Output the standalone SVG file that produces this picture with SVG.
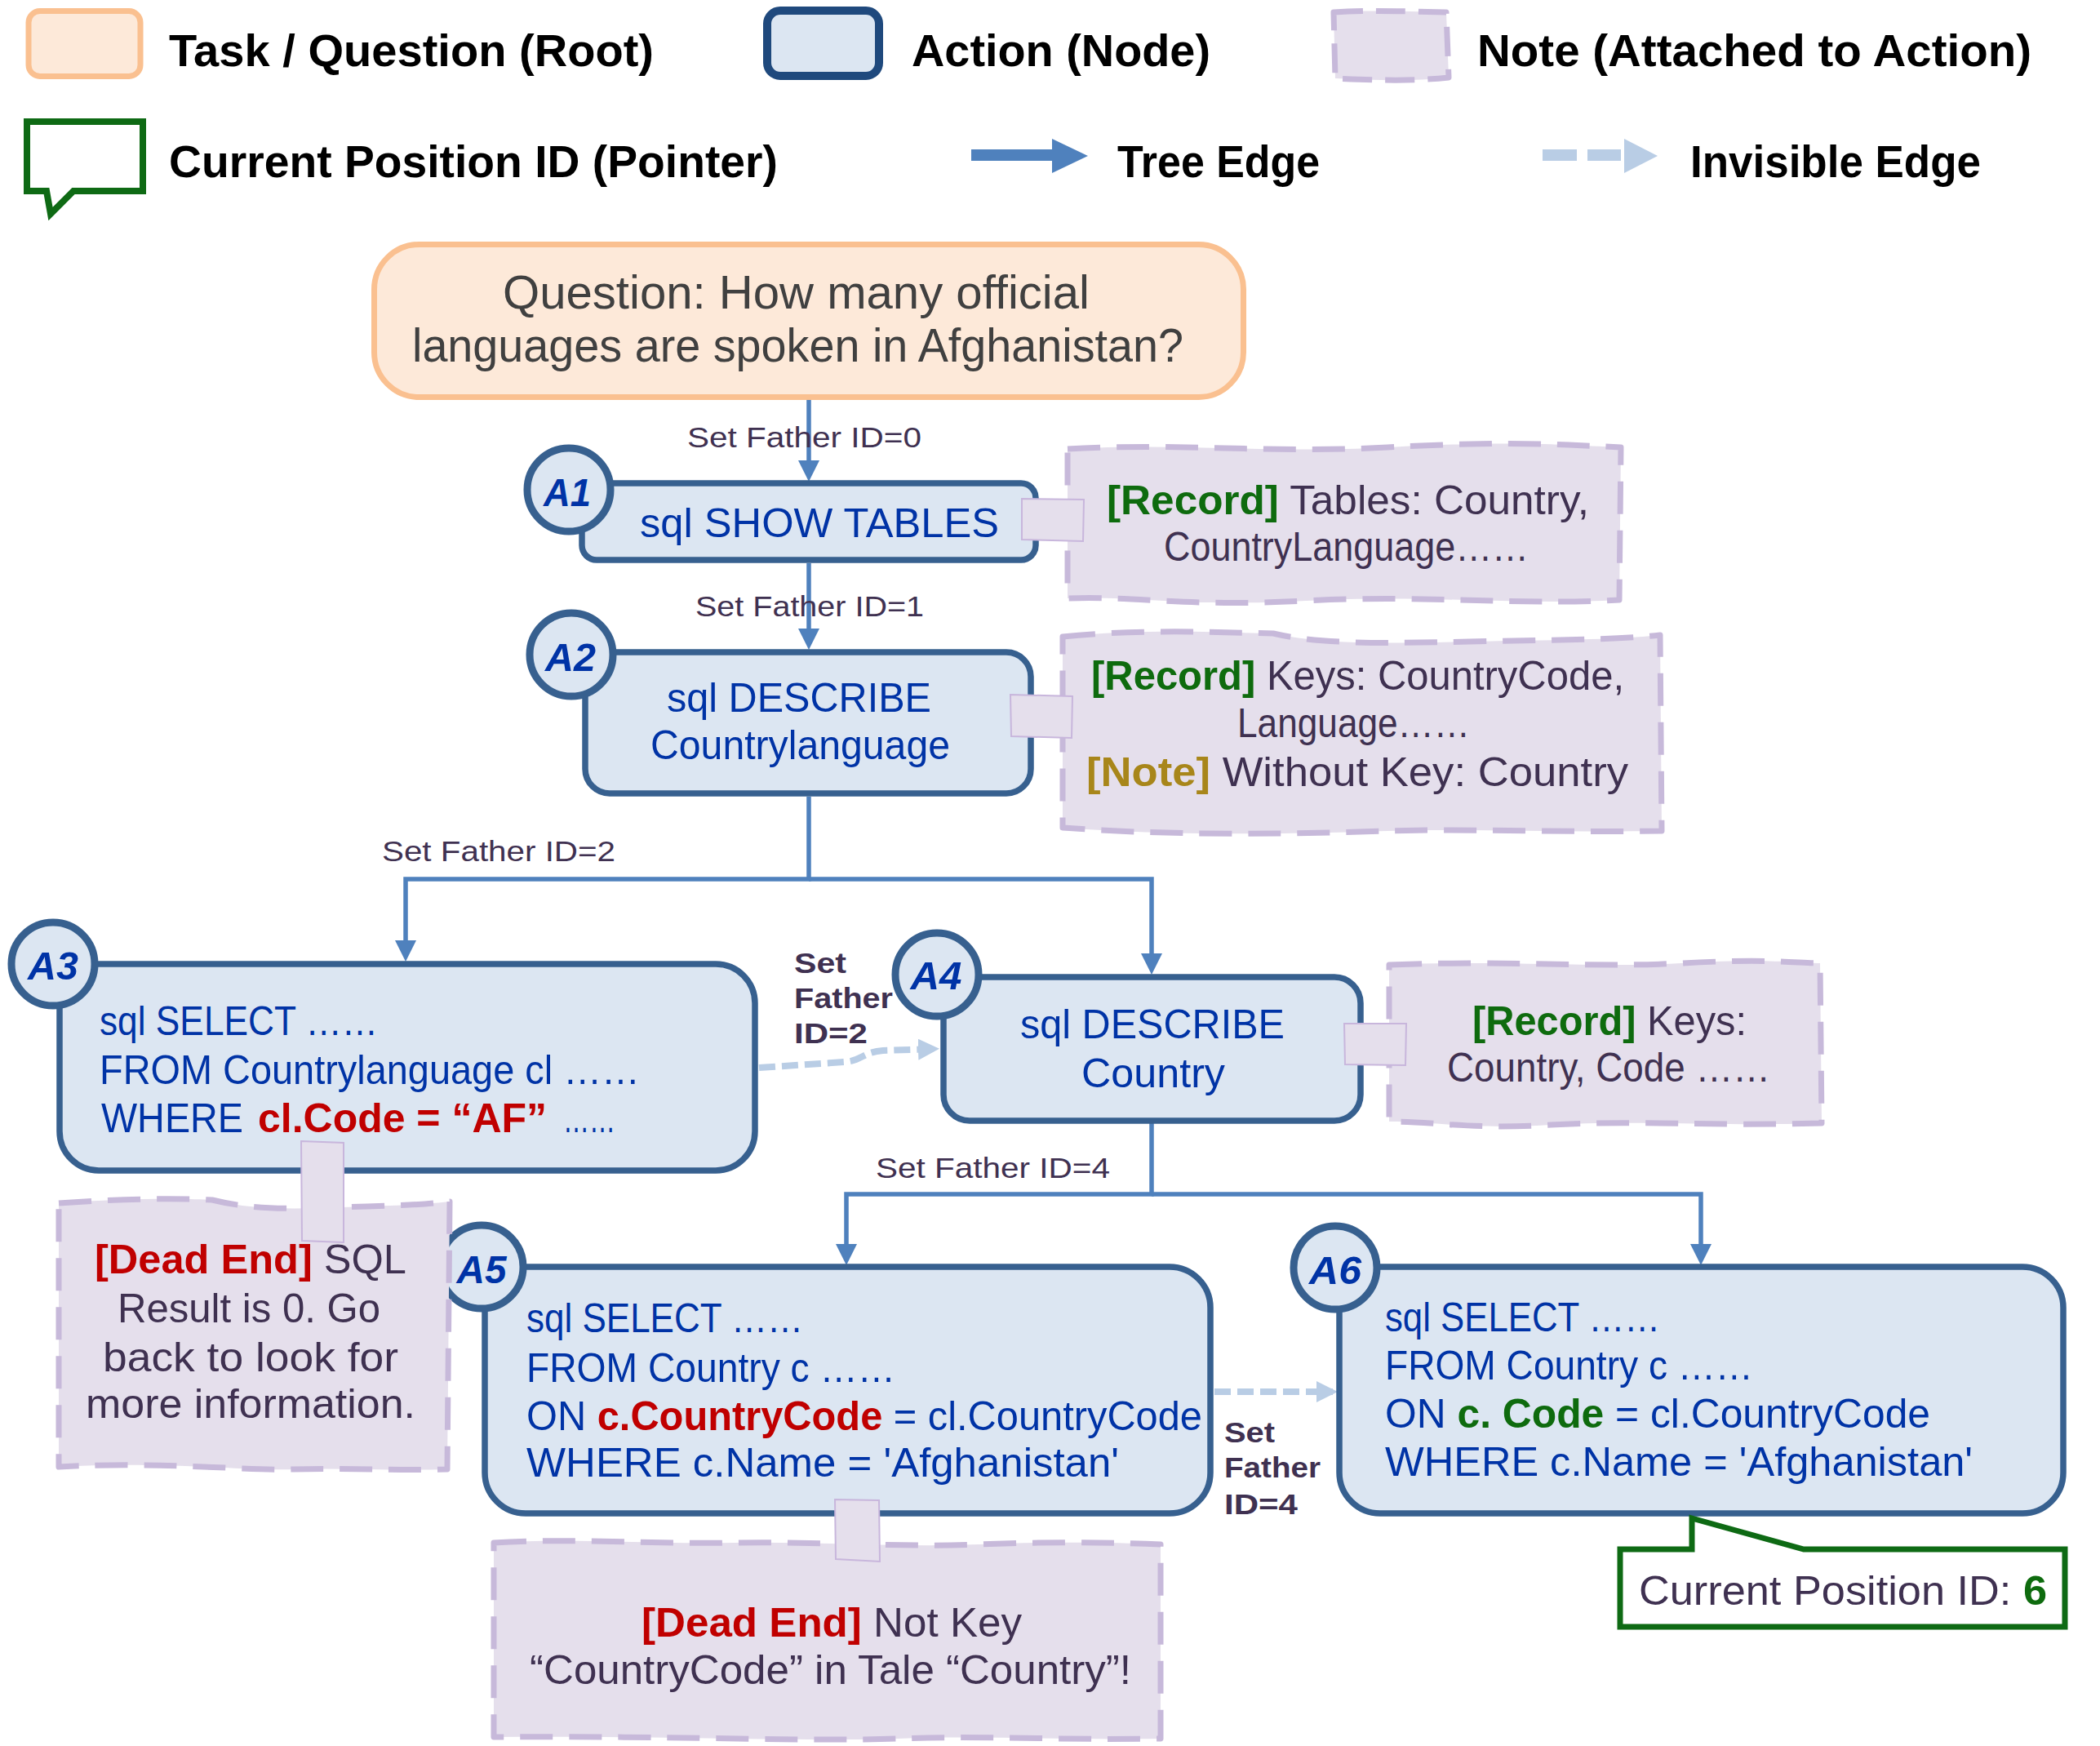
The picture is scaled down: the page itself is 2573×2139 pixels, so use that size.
<svg xmlns="http://www.w3.org/2000/svg" width="2573" height="2139" viewBox="0 0 2573 2139">
<defs>
<style>
.lg{font-family:"Liberation Sans",Arial,sans-serif;font-weight:bold;font-size:56px;fill:#000}
.cm{font-family:"Liberation Sans",Arial,sans-serif}
.q{font-size:57px;fill:#404040}
.nt{font-size:50px;fill:#0033A6}
.nn{font-size:50px;fill:#3F3151}
.lb{font-size:35px;fill:#3F3151}
.lbb{font-size:35px;fill:#3F3151;font-weight:bold}
.aid{font-size:48px;font-weight:bold;font-style:italic;fill:#0033A6;text-anchor:middle}
.red{fill:#C00000;font-weight:bold}
.grn{fill:#0E6B0E;font-weight:bold}
.gold{fill:#A8861A;font-weight:bold}
.node{fill:#DCE6F2;stroke:#37608F;stroke-width:7.5}
.circ{fill:#DCE6F2;stroke:#37608F;stroke-width:9}
.note{fill:#E5DFEC;stroke:#C7B9DA;stroke-width:7;stroke-dasharray:40 20;stroke-linejoin:round}
.tab{fill:#E5DFEC;stroke:#C8B6DC;stroke-width:2}
.edge{fill:none;stroke:#4F81BD;stroke-width:5.5;marker-end:url(#ah)}
.inv{fill:none;stroke:#B9CDE5;stroke-width:8;stroke-dasharray:20 8;marker-end:url(#ahi)}
</style>
<marker id="ah" viewBox="0 0 26 26" refX="20" refY="13" markerWidth="26" markerHeight="26" markerUnits="userSpaceOnUse" orient="auto">
<path d="M0,0 L26,13 L0,26 Z" fill="#4F81BD"/>
</marker>
<marker id="ahi" viewBox="0 0 26 26" refX="20" refY="13" markerWidth="26" markerHeight="26" markerUnits="userSpaceOnUse" orient="auto">
<path d="M0,0 L26,13 L0,26 Z" fill="#B9CDE5"/>
</marker>
</defs>
<rect width="2573" height="2139" fill="#FFFFFF"/>

<g id="legend">
<g id="legend-task">
<rect x="35" y="13.5" width="137" height="80" rx="14" fill="#FDE9D9" stroke="#FAC090" stroke-width="7"/>
<text class="lg" x="207" y="81" textLength="594" lengthAdjust="spacingAndGlyphs">Task / Question (Root)</text>
</g>
<g id="legend-action">
<rect x="940" y="13" width="137" height="80" rx="16" fill="#DCE6F2" stroke="#1F497D" stroke-width="10"/>
<text class="lg" x="1117" y="81" textLength="366" lengthAdjust="spacingAndGlyphs">Action (Node)</text>
</g>
<g id="legend-note">
<path class="note" d="M1634,15 C1680,12 1720,14 1772,15 L1775,95 C1730,100 1680,98 1636,96 Z" style="stroke-dasharray:36 16"/>
<text class="lg" x="1810" y="81" textLength="679" lengthAdjust="spacingAndGlyphs">Note (Attached to Action)</text>
</g>
<g id="legend-pointer">
<path d="M33,149 H175 V234 H90 L62,262 L57,234 H33 Z" fill="#FFFFFF" stroke="#0E6A14" stroke-width="8" stroke-linejoin="miter"/>
<text class="lg" x="207" y="217" textLength="746" lengthAdjust="spacingAndGlyphs">Current Position ID (Pointer)</text>
</g>
<g id="legend-tree-edge">
<rect x="1190" y="183" width="101" height="14" fill="#4F81BD"/>
<polygon points="1289,170 1333,191 1289,212" fill="#4F81BD"/>
<text class="lg" x="1369" y="217" textLength="248" lengthAdjust="spacingAndGlyphs">Tree Edge</text>
</g>
<g id="legend-invisible-edge">
<rect x="1890" y="183" width="42" height="14" fill="#B9CDE5"/>
<rect x="1945" y="183" width="41" height="14" fill="#B9CDE5"/>
<polygon points="1990,170 2031,191 1990,212" fill="#B9CDE5"/>
<text class="lg" x="2071" y="217" textLength="356" lengthAdjust="spacingAndGlyphs">Invisible Edge</text>
</g>
</g>

<g id="connectors">
<path class="edge" d="M991,489 V584"/>
<path class="edge" d="M991,690 V790"/>
<path class="edge" d="M991,976 V1077 H497 V1172"/>
<path class="edge" d="M991,1077 H1411 V1188"/>
<path class="edge" d="M1411,1376 V1463 H1037 V1544"/>
<path class="edge" d="M1411,1463 H2084 V1544"/>
<path class="inv" d="M930,1308 L1035,1301 C1058,1299 1056,1289 1082,1287 L1145,1285"/>
<path class="inv" d="M1488,1705 L1633,1705"/>
<text class="cm lb" x="842" y="548" textLength="287" lengthAdjust="spacingAndGlyphs">Set Father ID=0</text>
<text class="cm lb" x="852" y="755" textLength="280" lengthAdjust="spacingAndGlyphs">Set Father ID=1</text>
<text class="cm lb" x="468" y="1055" textLength="286" lengthAdjust="spacingAndGlyphs">Set Father ID=2</text>
<text class="cm lb" x="1073" y="1443" textLength="287" lengthAdjust="spacingAndGlyphs">Set Father ID=4</text>
<text class="cm lbb" x="973" y="1192" textLength="64" lengthAdjust="spacingAndGlyphs">Set</text>
<text class="cm lbb" x="973" y="1235" textLength="121" lengthAdjust="spacingAndGlyphs">Father</text>
<text class="cm lbb" x="973" y="1278" textLength="90" lengthAdjust="spacingAndGlyphs">ID=2</text>
<text class="cm lbb" x="1500" y="1767" textLength="62" lengthAdjust="spacingAndGlyphs">Set</text>
<text class="cm lbb" x="1500" y="1810" textLength="118" lengthAdjust="spacingAndGlyphs">Father</text>
<text class="cm lbb" x="1500" y="1855" textLength="90" lengthAdjust="spacingAndGlyphs">ID=4</text>
</g>

<g id="question">
<rect x="458.5" y="299.5" width="1065" height="187" rx="55" fill="#FDE9D9" stroke="#FAC090" stroke-width="7"/>
<text class="cm q" x="616" y="378" textLength="719" lengthAdjust="spacingAndGlyphs">Question: How many official</text>
<text class="cm q" x="505" y="443" textLength="945" lengthAdjust="spacingAndGlyphs">languages are spoken in Afghanistan?</text>
</g>

<g id="A1">
<rect class="node" x="713" y="592" width="556" height="94" rx="18"/>
<circle class="circ" cx="697" cy="600" r="51"/>
<text class="cm aid" x="695" y="620" textLength="58" lengthAdjust="spacingAndGlyphs">A1</text>
<text class="cm nt" x="784" y="658" textLength="440" lengthAdjust="spacingAndGlyphs">sql SHOW TABLES</text>
</g>

<g id="A2">
<rect class="node" x="717" y="799" width="546" height="173" rx="30"/>
<circle class="circ" cx="700" cy="802" r="51"/>
<text class="cm aid" x="699" y="822" textLength="62" lengthAdjust="spacingAndGlyphs">A2</text>
<text class="cm nt" x="817" y="872" textLength="324" lengthAdjust="spacingAndGlyphs">sql DESCRIBE</text>
<text class="cm nt" x="797" y="930" textLength="367" lengthAdjust="spacingAndGlyphs">Countrylanguage</text>
</g>

<g id="A3">
<rect class="node" x="73" y="1181" width="852" height="253" rx="48"/>
<circle class="circ" cx="65" cy="1181" r="51"/>
<text class="cm aid" x="65" y="1200" textLength="62" lengthAdjust="spacingAndGlyphs">A3</text>
<text class="cm nt" x="122" y="1268" textLength="341" lengthAdjust="spacingAndGlyphs">sql SELECT ……</text>
<text class="cm nt" x="122" y="1328" textLength="662" lengthAdjust="spacingAndGlyphs">FROM Countrylanguage cl ……</text>
<text class="cm nt" x="124" y="1387" textLength="174" lengthAdjust="spacingAndGlyphs">WHERE</text>
<text class="cm nt red" x="316" y="1387" textLength="354" lengthAdjust="spacingAndGlyphs">cl.Code = “AF”</text>
<text class="cm nt" x="690" y="1387" textLength="64" lengthAdjust="spacingAndGlyphs">……</text>
</g>

<g id="A4">
<rect class="node" x="1156" y="1197" width="511" height="176" rx="32"/>
<circle class="circ" cx="1148" cy="1194" r="51"/>
<text class="cm aid" x="1147" y="1212" textLength="63" lengthAdjust="spacingAndGlyphs">A4</text>
<text class="cm nt" x="1250" y="1272" textLength="324" lengthAdjust="spacingAndGlyphs">sql DESCRIBE</text>
<text class="cm nt" x="1325" y="1332" textLength="176" lengthAdjust="spacingAndGlyphs">Country</text>
</g>

<g id="A5">
<rect class="node" x="594" y="1552" width="889" height="302" rx="50"/>
<circle class="circ" cx="590" cy="1552" r="51"/>
<text class="cm aid" x="590" y="1572" textLength="61" lengthAdjust="spacingAndGlyphs">A5</text>
<text class="cm nt" x="645" y="1632" textLength="339" lengthAdjust="spacingAndGlyphs">sql SELECT ……</text>
<text class="cm nt" x="645" y="1693" textLength="452" lengthAdjust="spacingAndGlyphs">FROM Country c ……</text>
<text class="cm nt" x="645" y="1752" textLength="828" lengthAdjust="spacingAndGlyphs">ON <tspan class="red">c.CountryCode</tspan> = cl.CountryCode</text>
<text class="cm nt" x="645" y="1809" textLength="726" lengthAdjust="spacingAndGlyphs">WHERE c.Name = 'Afghanistan'</text>
</g>

<g id="A6">
<rect class="node" x="1641" y="1552" width="887" height="302" rx="50"/>
<circle class="circ" cx="1636" cy="1553" r="51"/>
<text class="cm aid" x="1636" y="1573" textLength="64" lengthAdjust="spacingAndGlyphs">A6</text>
<text class="cm nt" x="1697" y="1631" textLength="337" lengthAdjust="spacingAndGlyphs">sql SELECT ……</text>
<text class="cm nt" x="1697" y="1690" textLength="451" lengthAdjust="spacingAndGlyphs">FROM Country c ……</text>
<text class="cm nt" x="1697" y="1749" textLength="668" lengthAdjust="spacingAndGlyphs">ON <tspan class="grn">c. Code</tspan> = cl.CountryCode</text>
<text class="cm nt" x="1697" y="1808" textLength="720" lengthAdjust="spacingAndGlyphs">WHERE c.Name = 'Afghanistan'</text>
</g>

<g id="note-A1">
<path class="note" d="M1308,550 C1450,542 1550,556 1700,548 S1900,544 1986,548 L1984,735 C1850,742 1750,728 1600,736 S1400,730 1308,733 Z"/>
<path class="tab" d="M1252,611 L1328,612 L1327,663 L1252,661 Z"/>
<text class="cm nn" x="1356" y="630" textLength="591" lengthAdjust="spacingAndGlyphs"><tspan class="grn">[Record]</tspan> Tables: Country,</text>
<text class="cm nn" x="1426" y="687" textLength="447" lengthAdjust="spacingAndGlyphs">CountryLanguage……</text>
</g>

<g id="note-A2">
<path class="note" d="M1302,780 C1400,770 1500,775 1560,776 C1620,790 1700,788 1800,786 S1980,784 2034,778 L2036,1018 C1900,1020 1800,1015 1700,1018 S1450,1025 1302,1014 Z"/>
<path class="tab" d="M1238,851 L1314,853 L1313,904 L1239,902 Z"/>
<text class="cm nn" x="1337" y="845" textLength="653" lengthAdjust="spacingAndGlyphs"><tspan class="grn">[Record]</tspan> Keys: CountryCode,</text>
<text class="cm nn" x="1516" y="903" textLength="285" lengthAdjust="spacingAndGlyphs">Language……</text>
<text class="cm nn" x="1331" y="963" textLength="664" lengthAdjust="spacingAndGlyphs"><tspan class="gold">[Note]</tspan> Without Key: Country</text>
</g>

<g id="note-A4">
<path class="note" d="M1702,1182 C1850,1176 1950,1186 2060,1180 S2200,1180 2230,1180 L2232,1376 C2100,1380 2000,1372 1900,1378 S1760,1374 1702,1374 Z"/>
<path class="tab" d="M1647,1254 L1723,1254 L1722,1305 L1648,1304 Z"/>
<text class="cm nn" x="1804" y="1268" textLength="336" lengthAdjust="spacingAndGlyphs"><tspan class="grn">[Record]</tspan> Keys:</text>
<text class="cm nn" x="1773" y="1325" textLength="396" lengthAdjust="spacingAndGlyphs">Country, Code ……</text>
</g>

<g id="note-A3">
<path class="note" d="M72,1474 C150,1468 220,1468 260,1470 C320,1485 380,1480 450,1478 S530,1474 551,1472 L548,1800 C480,1802 420,1798 360,1800 S200,1790 72,1797 Z"/>
<path class="tab" d="M369,1398 L421,1400 L421,1522 L370,1520 Z"/>
<text class="cm nn" x="116" y="1560" textLength="382" lengthAdjust="spacingAndGlyphs"><tspan class="red">[Dead End]</tspan> SQL</text>
<text class="cm nn" x="144" y="1620" textLength="322" lengthAdjust="spacingAndGlyphs">Result is 0. Go</text>
<text class="cm nn" x="126" y="1680" textLength="362" lengthAdjust="spacingAndGlyphs">back to look for</text>
<text class="cm nn" x="105" y="1737" textLength="404" lengthAdjust="spacingAndGlyphs">more information.</text>
</g>

<g id="note-A5">
<path class="note" d="M605,1890 C700,1884 800,1892 900,1890 S1100,1896 1200,1892 S1380,1890 1422,1892 L1422,2130 C1300,2132 1200,2126 1100,2130 S800,2126 605,2128 Z"/>
<path class="tab" d="M1023,1837 L1077,1838 L1078,1913 L1024,1910 Z"/>
<text class="cm nn" x="786" y="2005" textLength="466" lengthAdjust="spacingAndGlyphs"><tspan class="red">[Dead End]</tspan> Not Key</text>
<text class="cm nn" x="649" y="2063" textLength="737" lengthAdjust="spacingAndGlyphs">“CountryCode” in Tale “Country”!</text>
</g>

<g id="pointer">
<path d="M1985,1898 H2073 V1860 L2210,1898 H2530 V1993 H1985 Z" fill="#FFFFFF" stroke="#0E6A14" stroke-width="7"/>
<text class="cm nn" x="2008" y="1966" textLength="500" lengthAdjust="spacingAndGlyphs">Current Position ID: <tspan class="grn">6</tspan></text>
</g>
</svg>
